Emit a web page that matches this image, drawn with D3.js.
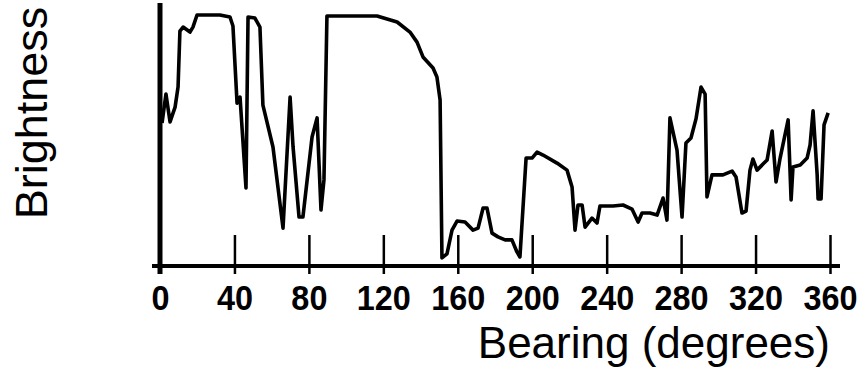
<!DOCTYPE html>
<html>
<head>
<meta charset="utf-8">
<script src="https://cdn.jsdelivr.net/npm/d3@7"></script>
<style>
  html, body { margin: 0; padding: 0; background: #fff; }
  svg { display: block; }
</style>
</head>
<body>
<div id="chart"></div>
<script>
// bearing (degrees)
const bearing = [1.1, 3.2, 5.4, 8.1, 9.7, 10.7, 12.4, 16.1, 17.7, 19.9, 32.2, 37.6, 39.2, 41.4, 43.0, 46.2, 47.3, 51.0, 53.7, 55.3,
  60.7, 66.1, 69.9, 71.5, 74.7, 76.8, 81.7, 84.4, 86.5, 88.1, 89.7, 116.6, 127.4, 134.3, 138.1, 141.3, 146.7, 148.8, 150.5, 151.5,
  154.2, 156.9, 159.6, 163.9, 168.2, 170.9, 173.6, 175.7, 178.4, 181.6, 185.4, 189.1, 191.8, 193.4, 196.7, 199.9, 202.6, 205.8, 213.3, 218.7,
  221.4, 223.0, 224.6, 226.8, 228.4, 232.1, 234.8, 236.4, 243.4, 248.8, 253.6, 256.9, 259.0, 263.3, 267.1, 270.3, 272.4, 274.0, 277.8, 280.5,
  282.6, 285.3, 288.0, 290.7, 292.9, 293.9, 296.6, 302.5, 307.4, 309.5, 312.7, 314.9, 317.0, 318.6, 320.8, 324.0, 326.2, 328.9, 331.0, 333.2,
  337.5, 339.1, 340.1, 344.0, 347.7, 349.3, 350.9, 353.1, 353.6, 355.2, 356.8, 359.0];

// brightness (relative, 0-100)
const brightness = [57.0, 68.5, 57.4, 63.3, 71.3, 93.6, 95.2, 93.2, 95.2, 100, 100, 99.2, 95.6, 64.9, 67.3, 31.1, 99.2, 98.8, 95.2, 64.1,
  47.4, 15.1, 67.3, 47.4, 19.5, 19.5, 51.4, 59.0, 22.3, 34.3, 99.6, 99.6, 97.2, 93.2, 89.2, 83.3, 78.9, 75.3, 66.1, 3.2,
  4.8, 14.3, 17.9, 17.5, 14.3, 15.1, 23.1, 23.1, 13.1, 11.6, 10.4, 10.4, 5.6, 3.6, 43.0, 43.0, 45.4, 44.2, 41.0, 38.2,
  31.5, 14.3, 24.3, 24.3, 15.5, 19.1, 17.1, 23.9, 23.9, 24.3, 22.7, 17.5, 21.1, 21.1, 20.3, 27.1, 18.3, 59.0, 46.2, 19.5,
  49.0, 51.0, 58.6, 71.3, 68.5, 27.5, 36.3, 36.3, 37.8, 35.5, 21.1, 21.9, 38.2, 42.6, 38.2, 40.6, 42.2, 53.8, 33.5, 43.0,
  58.2, 26.3, 39.4, 40.2, 43.0, 48.2, 61.8, 36.3, 26.7, 26.7, 56.2, 61.0];

const xTicks = [0, 40, 80, 120, 160, 200, 240, 280, 320, 360];

const W = 864, H = 376;
const svg = d3.select('#chart').append('svg')
  .attr('width', W).attr('height', H)
  .attr('viewBox', `0 0 ${W} ${H}`);

const x = d3.scaleLinear().domain([0, 360]).range([160, 830]);
const y = d3.scaleLinear().domain([0, 100]).range([266, 15]);

const pts = bearing.map((b, i) => ({ b, v: brightness[i] }));

// x axis: ticks cross the baseline
const xAxis = svg.append('g')
  .attr('transform', `translate(0,${y(0)})`)
  .call(d3.axisBottom(x).tickValues(xTicks).tickSize(0).tickPadding(0).tickFormat(''));
xAxis.select('.domain').remove();
xAxis.selectAll('.tick line').remove();
xAxis.selectAll('.tick').append('line')
  .attr('y1', -31).attr('y2', 8)
  .attr('stroke', '#000').attr('stroke-width', 2.5);
xAxis.selectAll('.tick text').remove();
// condensed bold labels
xAxis.selectAll('.tick').append('text')
  .attr('transform', 'translate(0,44) scale(0.9,1)')
  .attr('text-anchor', 'middle')
  .attr('fill', '#000')
  .attr('font-family', '"Liberation Sans", Arial, sans-serif')
  .attr('font-weight', 'bold')
  .attr('font-size', '36px')
  .text(d => d);

// baseline and y axis
svg.append('line')
  .attr('x1', 152).attr('x2', x(360) + 10)
  .attr('y1', y(0)).attr('y2', y(0))
  .attr('stroke', '#000').attr('stroke-width', 4);
svg.append('line')
  .attr('x1', x(0)).attr('x2', x(0))
  .attr('y1', 3).attr('y2', y(0) + 8)
  .attr('stroke', '#000').attr('stroke-width', 5);

// data line
const line = d3.line().x(d => x(d.b)).y(d => y(d.v));
svg.append('path')
  .datum(pts)
  .attr('d', line)
  .attr('fill', 'none')
  .attr('stroke', '#000')
  .attr('stroke-width', 3.6)
  .attr('stroke-linejoin', 'round');

// axis titles
svg.append('text')
  .attr('transform', 'translate(47,113) rotate(-90)')
  .attr('text-anchor', 'middle')
  .attr('font-family', '"Liberation Sans", Arial, sans-serif')
  .attr('font-size', '45px')
  .attr('fill', '#000')
  .text('Brightness');

svg.append('text')
  .attr('x', 830).attr('y', 358)
  .attr('text-anchor', 'end')
  .attr('font-family', '"Liberation Sans", Arial, sans-serif')
  .attr('font-size', '44px')
  .attr('fill', '#000')
  .text('Bearing (degrees)');
</script>
</body>
</html>
